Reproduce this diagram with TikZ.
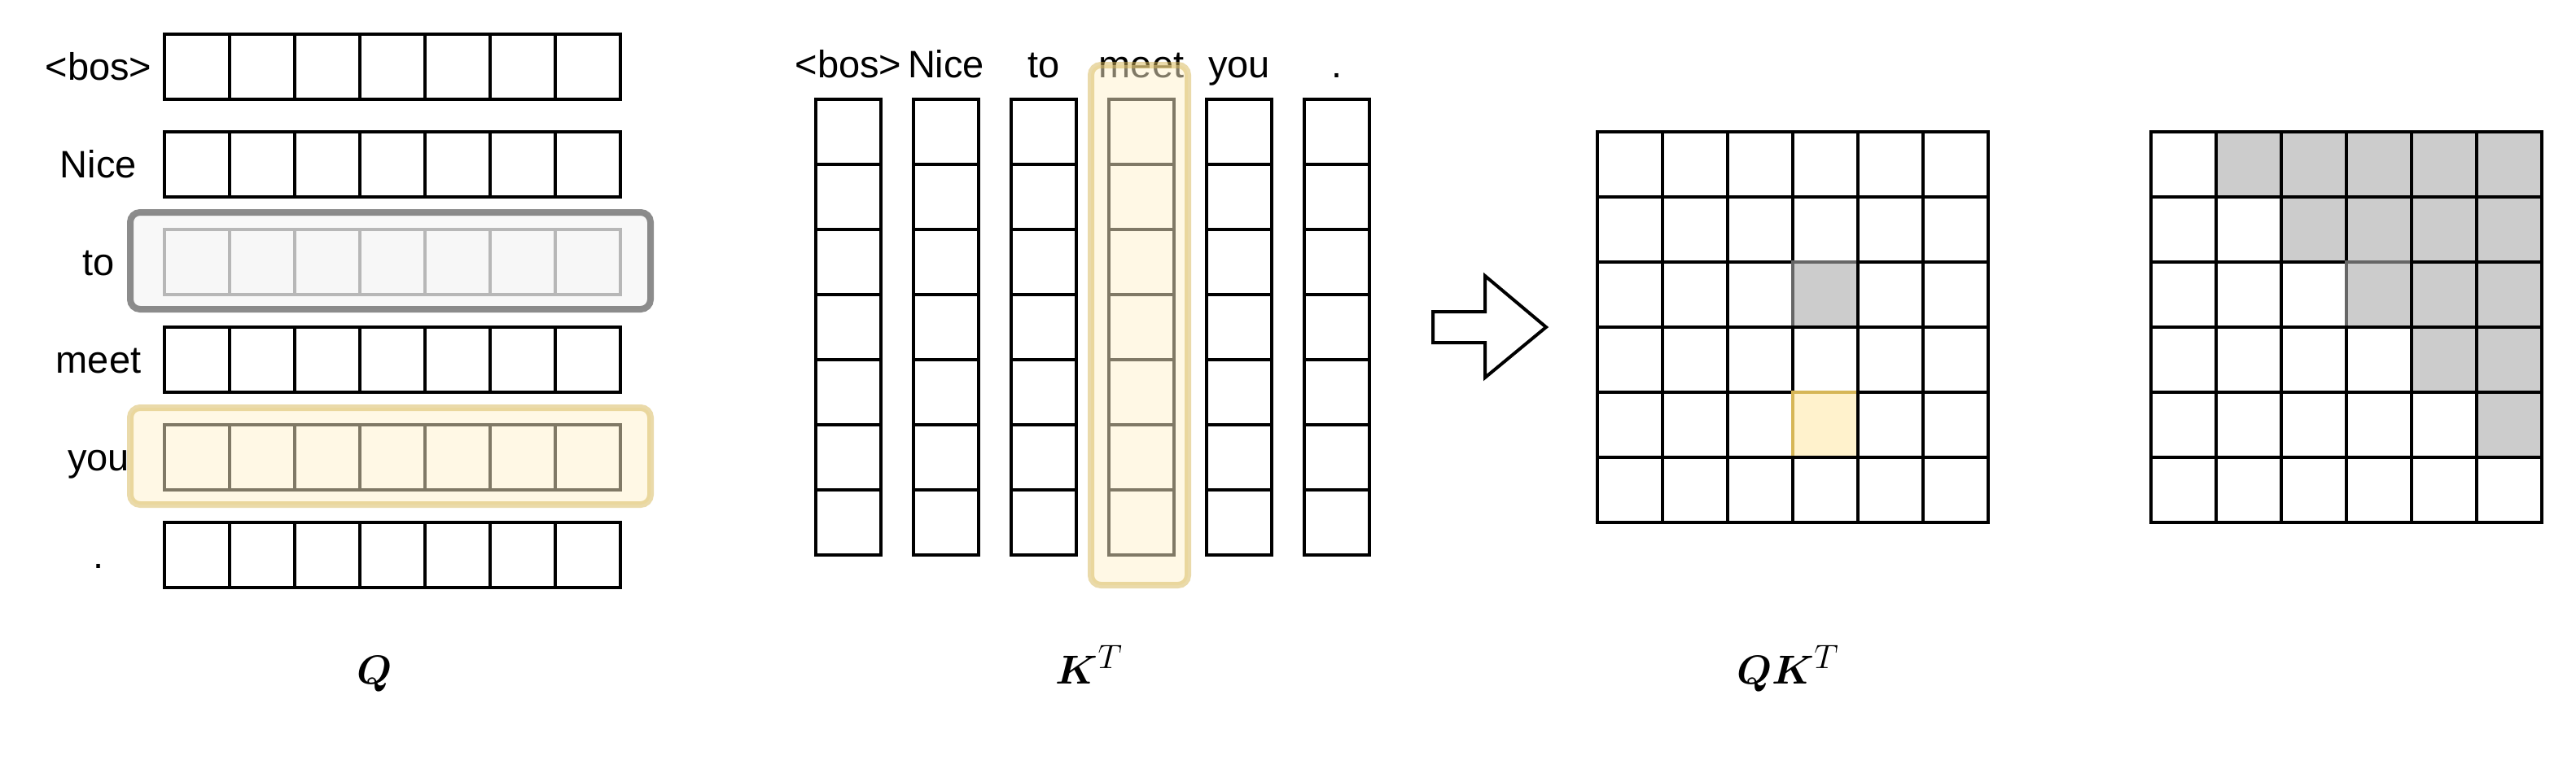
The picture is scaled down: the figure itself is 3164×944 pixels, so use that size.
\documentclass[tikz,border=0pt]{standalone}
\usepackage{fontspec}
\setmainfont{Liberation Sans}
\usepackage{bm}
\definecolor{gfill}{HTML}{F5F5F5}
\definecolor{gline}{HTML}{666666}
\definecolor{yfill}{HTML}{FFF2CC}
\definecolor{yline}{HTML}{D6B656}
\definecolor{shadegray}{HTML}{CCCCCC}
\begin{document}
\begin{tikzpicture}[x=0.5pt,y=-0.5pt,
  cell/.style={draw=black,line width=2pt,fill=white,minimum width=40pt,minimum height=40pt,inner sep=0pt,outer sep=0pt,anchor=north west},
  shade/.style={cell,fill=shadegray},
  graycell/.style={cell,fill=shadegray,draw=gline},
  yelcell/.style={cell,fill=yfill,draw=yline},
  lbl/.style={font=\fontsize{23.5}{28}\selectfont,inner sep=0pt,anchor=base},
  mlbl/.style={font=\fontsize{28}{33}\selectfont,inner sep=0pt,anchor=base},
  grayband/.style={draw=gline,fill=gfill,line width=4pt,rounded corners=6pt,opacity=0.75},
  yelband/.style={draw=yline,fill=yfill,line width=4pt,rounded corners=6pt,opacity=0.5},
  blockarrow/.style={draw=black,fill=white,line width=2pt,line join=miter}
]
\useasboundingbox (0,0) rectangle (3164,944);

% ---------- Q ----------
\foreach \lab [count=\i from 0] in {<bos>,Nice,to,meet,you,.}{
  \node[lbl] (ql\i) at (121,{98+120*\i}) {\lab};
  \foreach \k in {0,...,6}{
    \node[cell] (q-\i-\k) at ({202+80*\k},{42+120*\i}) {};
  }
}
\draw[grayband] (160,261) rectangle (799,380);
\draw[yelband] (160,501) rectangle (799,620);
\node[mlbl] (Qlab) at (460,840) {$\bm{Q}$};

% ---------- K^T ----------
\foreach \lab [count=\j from 0] in {<bos>,Nice,to,meet,you,.}{
  \node[lbl] (kl\j) at ({1042+120*\j},95) {\lab};
  \foreach \k in {0,...,6}{
    \node[cell] (k-\j-\k) at ({1002+120*\j},{122+80*\k}) {};
  }
}
\draw[yelband] (1340,80) rectangle (1459,719);
\node[mlbl] (Klab) at (1338,840) {$\bm{K}^{T}$};

% ---------- arrow ----------
\draw[blockarrow] (1760,383) -- (1824,383) -- (1824,339) -- (1899,402) -- (1824,464) -- (1824,421) -- (1760,421) -- cycle;

% ---------- QK^T ----------
\foreach \i in {0,...,5}{
  \foreach \j in {0,...,5}{
    \ifnum\i\j=23
      \node[graycell] (m-\i-\j) at ({1962+80*\j},{162+80*\i}) {};
    \else
      \ifnum\i\j=43
        \node[yelcell] (m-\i-\j) at ({1962+80*\j},{162+80*\i}) {};
      \else
        \node[cell] (m-\i-\j) at ({1962+80*\j},{162+80*\i}) {};
      \fi
    \fi
  }
}
\node[mlbl] (QKlab) at (2196,840) {$\bm{Q}\bm{K}^{T}$};

% ---------- masked ----------
\foreach \i in {0,...,5}{
  \foreach \j in {0,...,5}{
    \ifnum\j>\i
      \ifnum\i\j=23
        \node[graycell] (r-\i-\j) at ({2642+80*\j},{162+80*\i}) {};
      \else
        \node[shade] (r-\i-\j) at ({2642+80*\j},{162+80*\i}) {};
      \fi
    \else
      \node[cell] (r-\i-\j) at ({2642+80*\j},{162+80*\i}) {};
    \fi
  }
}
\end{tikzpicture}
\end{document}
